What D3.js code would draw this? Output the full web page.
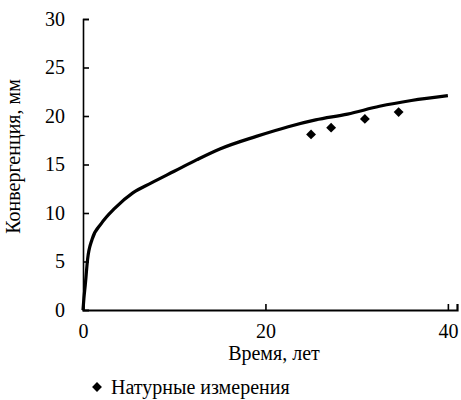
<!DOCTYPE html>
<html>
<head>
<meta charset="utf-8">
<script src="https://cdn.jsdelivr.net/npm/d3@7"></script>
</head>
<body style="margin:0">
<div id="chart"></div>
<script>
    // model curve (years, mm)
    var modelTime = [0, 0.1, 0.25, 0.5, 1, 2, 3.5, 5.5, 7.5, 10, 12.5, 15, 19, 22.5, 25.5, 29, 32.5, 36, 40];
    var modelConv = [0, 1.2, 2.6, 5.2, 7.3, 8.9, 10.5, 12.1, 13.1, 14.3, 15.5, 16.6, 17.9, 18.9, 19.6, 20.2, 21.0, 21.6, 22.1];

    // field measurements
    var measTime = [25.0, 27.2, 30.9, 34.6];
    var measConv = [18.1, 18.8, 19.7, 20.4];

    var xTicks = [0, 20, 40];
    var yTicks = [0, 5, 10, 15, 20, 25, 30];

    var xTitle = "Время, лет";
    var yTitle = "Конвергенция, мм";
    var legendLabel = "Натурные измерения";

    var W = 461, H = 400;
    var margin = { top: 19, right: 4, bottom: 90, left: 83 },
        width = W - margin.left - margin.right,
        height = H - margin.top - margin.bottom;

    var svg = d3.select("#chart")
        .append("svg")
        .attr("width", W)
        .attr("height", H);

    var g = svg.append("g")
        .attr("transform", "translate(" + margin.left + "," + margin.top + ")");

    var x = d3.scaleLinear().domain([0, 41]).range([0, width]);
    var y = d3.scaleLinear().domain([0, 30]).range([height, 0]);

    // x axis, ticks pointing inward
    var xAxis = g.append("g")
        .attr("transform", "translate(0," + height + ")")
        .call(d3.axisBottom(x).tickValues(xTicks).tickSize(-6).tickPadding(14).tickFormat(d3.format("d")));
    xAxis.select(".domain").attr("stroke-width", 2.2);
    xAxis.selectAll(".tick line").attr("stroke-width", 1.6);

    // y axis
    var yAxis = g.append("g")
        .call(d3.axisLeft(y).tickValues(yTicks).tickSize(-6).tickPadding(18).tickFormat(d3.format("d")));
    yAxis.select(".domain").attr("stroke-width", 1.6);
    yAxis.selectAll(".tick line").attr("stroke-width", 1.6);

    // axis titles
    g.append("text")
        .attr("class", "title")
        .attr("x", width / 2 + 4)
        .attr("y", height + 50)
        .attr("text-anchor", "middle")
        .text(xTitle);

    g.append("text")
        .attr("class", "title")
        .attr("transform", "translate(" + (-63) + "," + (height / 2 - 8) + ") rotate(-90)")
        .attr("text-anchor", "middle")
        .text(yTitle);

    // model line
    var lineData = modelTime.map(function(t, i) { return [t, modelConv[i]]; });
    var line = d3.line()
        .x(function(d) { return x(d[0]); })
        .y(function(d) { return y(d[1]); })
        .curve(d3.curveMonotoneX);

    g.append("path")
        .datum(lineData)
        .attr("fill", "none")
        .attr("stroke", "#000")
        .attr("stroke-width", 3.2)
        .attr("stroke-linejoin", "round")
        .attr("d", line);

    // measurement markers
    var diamond = d3.symbol().type(d3.symbolDiamond2).size(62);
    g.selectAll(".meas")
        .data(measTime)
        .enter()
        .append("path")
        .attr("class", "meas")
        .attr("d", diamond)
        .attr("transform", function(d, i) {
            return "translate(" + x(d) + "," + y(measConv[i]) + ")";
        })
        .attr("fill", "#000");

    // legend
    var legend = svg.append("g").attr("transform", "translate(97,387)");
    legend.append("path").attr("d", diamond).attr("fill", "#000");
    legend.append("text")
        .attr("x", 14)
        .attr("y", 6.5)
        .text(legendLabel);

    // every text in serif, set last so nothing overrides it
    svg.selectAll("text")
        .attr("font-size", 20)
        .style("font-family", "Times New Roman")
        .style("fill", "#000");
</script>
</body>
</html>
